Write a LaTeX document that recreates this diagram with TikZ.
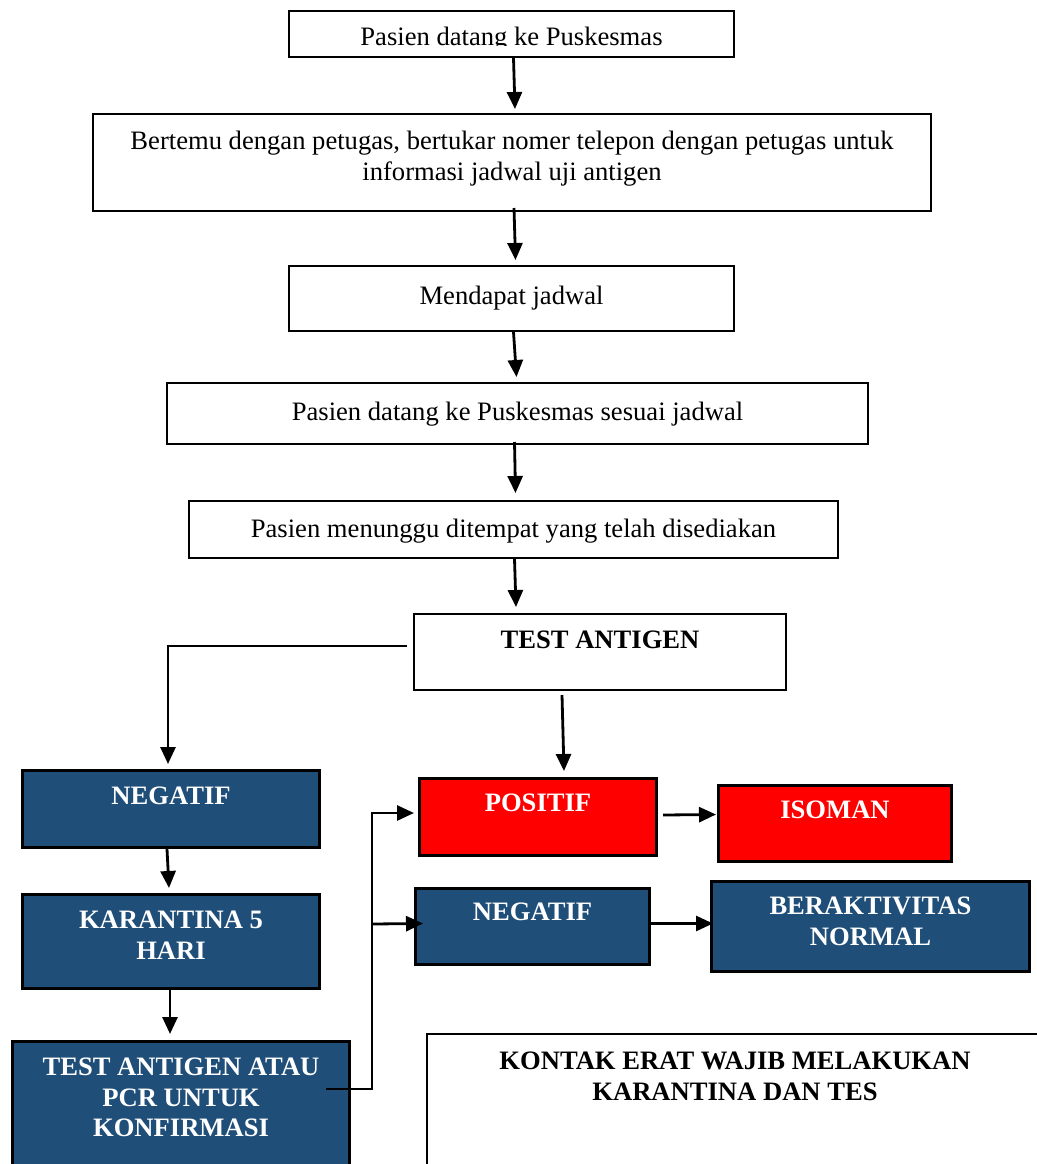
\documentclass[tikz,border=0pt]{standalone}
\usepackage{fontspec}
\setmainfont{Liberation Serif}
\usetikzlibrary{arrows.meta,positioning}
\definecolor{darkblue}{RGB}{31,78,121}

\tikzset{
  box/.style={draw, line width=2pt, anchor=north west, inner sep=0pt},
  bluebox/.style={box, fill=darkblue, line width=3pt},
  redbox/.style={box, fill=red, line width=3pt},
  txt/.style={anchor=north, inner sep=0pt, align=center, font=\fontsize{26.6}{30.5}\selectfont},
  btxt/.style={txt, font=\fontsize{26.6}{30.5}\selectfont\bfseries},
  wtxt/.style={btxt, text=white},
  arr/.style={line width=2.8pt, -{Triangle[length=17pt,width=15pt]}},
}

\begin{document}
\begin{tikzpicture}[x=1pt,y=-1pt]
  \useasboundingbox[fill=white] (0,0) rectangle (1036,1164);

  % Main column
  \node[box, minimum width=445, minimum height=46] (n1) at (288,10) {};
  \node[box, minimum width=838, minimum height=97] (n2) at (92,113) {};
  \node[box, minimum width=445, minimum height=65] (n3) at (288,265) {};
  \node[box, minimum width=701, minimum height=61] (n4) at (166,382) {};
  \node[box, minimum width=649, minimum height=57] (n5) at (188,500) {};
  \node[box, minimum width=372, minimum height=76] (ta) at (413,613) {};

  \begin{scope}
    \clip (n1.north west) rectangle ([yshift=12]n1.south east);
    \node[txt] (t1) at ([yshift=-17]n1.north) {Pasien datang ke Puskesmas};
  \end{scope}
  \node[txt] (t2) at ([yshift=-18]n2.north) {Bertemu dengan petugas, bertukar nomer telepon dengan petugas untuk\\ informasi jadwal uji antigen};
  \node[txt] (t3) at ([yshift=-21]n3.north) {Mendapat jadwal};
  \node[txt] (t4) at ([yshift=-20]n4.north) {Pasien datang ke Puskesmas sesuai jadwal};
  \node[txt] (t5) at ([yshift=-19]n5.north) {Pasien menunggu ditempat yang telah disediakan};
  \node[btxt] (t6) at ([yshift=-18]ta.north) {TEST ANTIGEN};

  % Left branch
  \node[bluebox, minimum width=297, minimum height=77] (neg1) at (21,769) {};
  \node[bluebox, minimum width=297, minimum height=94] (kar) at (21,893) {};
  \node[bluebox, minimum width=337, minimum height=160] (conf) at (11,1040) {};
  \node[wtxt] (t7) at ([yshift=-18]neg1.north) {NEGATIF};
  \node[wtxt] (t8) at ([yshift=-18]kar.north) {KARANTINA 5\\ HARI};
  \node[wtxt] (t9) at ([yshift=-18]conf.north) {TEST ANTIGEN ATAU\\ PCR UNTUK\\ KONFIRMASI};

  % Right branch
  \node[redbox, minimum width=237, minimum height=77] (pos) at (418,777) {};
  \node[redbox, minimum width=233, minimum height=76] (iso) at (717,784) {};
  \node[bluebox, minimum width=234, minimum height=76] (neg2) at (414,887) {};
  \node[bluebox, minimum width=318, minimum height=90] (ber) at (710,880) {};
  \node[wtxt] (t10) at ([yshift=-17]pos.north) {POSITIF};
  \node[wtxt] (t11) at ([yshift=-17]iso.north) {ISOMAN};
  \node[wtxt] (t12) at ([yshift=-16]neg2.north) {NEGATIF};
  \node[wtxt] (t13) at ([yshift=-17]ber.north) {BERAKTIVITAS\\ NORMAL};

  % Note
  \node[box, minimum width=640, minimum height=160] (note) at (426,1033) {};
  \node[btxt] (t14) at ([yshift=-19]note.north -| 735,0) {KONTAK ERAT WAJIB MELAKUKAN\\ KARANTINA DAN TES};

  % Arrows
  \draw[arr] ([xshift=2]n1.south) -- ([xshift=3,yshift=4]n2.north);
  \draw[arr] ([xshift=2,yshift=4]n2.south) -- ([xshift=4,yshift=5]n3.north);
  \draw[arr] ([xshift=2]n3.south) -- ([xshift=-1,yshift=5]n4.north);
  \draw[arr] ([xshift=-3,yshift=3]n4.south) -- ([xshift=2,yshift=7]n5.north);
  \draw[arr] ([xshift=1]n5.south) -- ([xshift=-84,yshift=6]ta.north);
  \draw[arr] ([xshift=-6,yshift=6]ta.west) -| ([xshift=-3,yshift=5]neg1.north);
  \draw[arr] ([xshift=-38,yshift=-4]ta.south) -- ([xshift=26,yshift=6]pos.north);
  \draw[arr] ([xshift=-4]neg1.south) -- ([xshift=-2,yshift=5]kar.north);
  \draw[arr] ([xshift=-1]kar.south) -- ([xshift=-11,yshift=6]conf.north);
  \draw[arr] ([xshift=-25,yshift=-49]conf.north east) -- ++(46,0) |- ([xshift=-4,yshift=4]pos.west);
  \coordinate (s) at (372,924);
  \draw[arr] (s) -- ([xshift=9,yshift=3]neg2.west);
  \draw[arr] ([xshift=5,yshift=2]pos.east) -- ([xshift=-1,yshift=9]iso.west);
  \draw[arr] ([xshift=-2,yshift=3]neg2.east) -- ([xshift=3,yshift=3]ber.west);
\end{tikzpicture}
\end{document}
